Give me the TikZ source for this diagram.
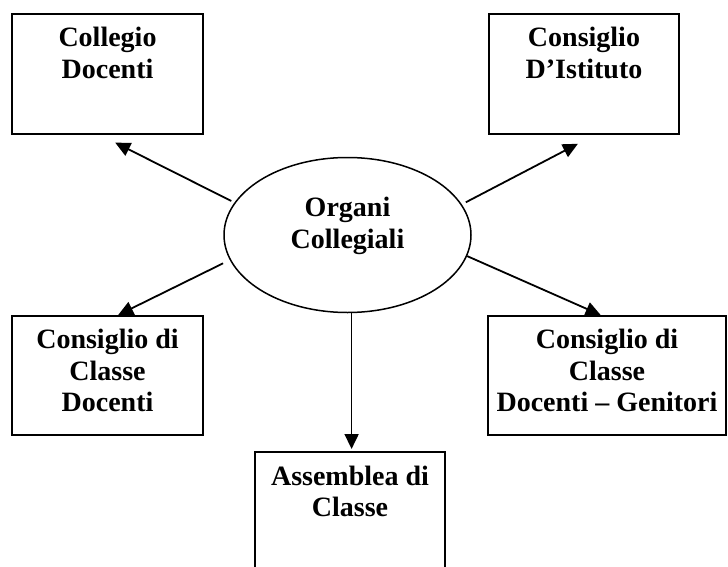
\documentclass[tikz,border=0pt]{standalone}
\usepackage{fontspec}
\setmainfont{Liberation Serif}
\usetikzlibrary{arrows.meta,shapes.geometric}
\tikzset{%
  organo/.style  = {shape=rectangle, draw, line width=2pt, fill=white,%
                    minimum height=120pt, inner sep=0pt},%
  centro/.style  = {shape=ellipse, draw, line width=1.5pt,%
                    minimum width=247pt, minimum height=155pt, inner sep=0pt},%
  testo/.style   = {font=\fontsize{28}{31.5}\selectfont\bfseries, align=center,%
                    inner sep=0pt, anchor=north, execute at begin node=\strut},%
  freccia/.style = {line width=1.8pt, -{Triangle[length=15pt,width=14pt]}}%
}
\begin{document}
\begin{tikzpicture}[x=1pt,y=-1pt]
	\useasboundingbox (0,0) rectangle (728,567);
	% organo centrale
	\node [centro] (og) at (347.5,235) {};
	\node [testo] (og-t) at ([yshift=38pt]og.center) {Organi\\Collegiali};
	% organi
	\node [organo, minimum width=191pt] (cd) at (107.5,74) {};
	\node [organo, minimum width=190pt] (ci) at (584,74) {};
	\node [organo, minimum width=191pt, minimum height=119pt] (ccd) at (107.5,375.5) {};
	\node [organo, minimum width=238pt, minimum height=119pt] (ccg) at (607,375.5) {};
	\node [organo, minimum width=190pt] (ac) at (350,512) {};
	\node [testo] (cd-t) at ([yshift=-14pt]cd.north) {Collegio\\Docenti};
	\node [testo] (ci-t) at ([yshift=-14pt]ci.north) {Consiglio\\D’Istituto};
	\node [testo] (ccd-t) at ([yshift=-14pt]ccd.north) {Consiglio di\\Classe\\Docenti};
	\node [testo] (ccg-t) at ([yshift=-14pt]ccg.north) {Consiglio di\\Classe\\Docenti – Genitori};
	\node [testo] (ac-t) at ([yshift=-14.5pt]ac.north) {Assemblea di\\Classe};
	% frecce
	\draw [freccia, shorten <=3.5pt, shorten >=17pt] (og.164) -- (cd.-97);
	\draw [freccia, shorten <=4.5pt, shorten >=19pt] (og.15) -- (ci.-80);
	\draw [freccia, shorten <=7.5pt] (og.192) -- (ccd.80);
	\draw [freccia] (og.-10) -- (ccg.96);
	\draw [freccia, shorten >=2pt] (og.-87) -- (og.-87 |- ac.north);
\end{tikzpicture}
\end{document}
